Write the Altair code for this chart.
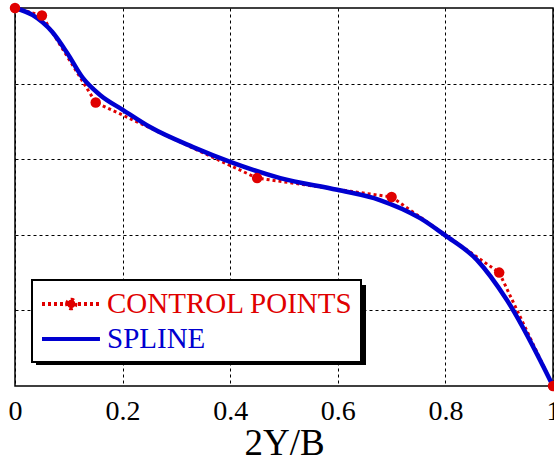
import altair as alt
import pandas as pd

# control points (2Y/B, value)
ctrl_x = [0.0, 0.05, 0.15, 0.45, 0.70, 0.90, 1.0]
ctrl_y = [1.0, 0.98, 0.75, 0.55, 0.50, 0.30, 0.0]

# spline curve
spl_x = [0.0, 0.033, 0.069, 0.097, 0.126, 0.158, 0.201, 0.251, 0.331, 0.400,
         0.493, 0.599, 0.678, 0.753, 0.799, 0.859, 0.914, 1.0]
spl_y = [1.0, 0.981, 0.937, 0.881, 0.815, 0.770, 0.730, 0.685, 0.632, 0.593,
         0.550, 0.519, 0.492, 0.444, 0.399, 0.333, 0.228, 0.0]

series = ["CONTROL POINTS", "SPLINE"]
x_ticks = [0, 0.2, 0.4, 0.6, 0.8, 1.0]
y_ticks = [0.2, 0.4, 0.6, 0.8]
RED = "#e00000"
BLUE = "#0000d0"
FONT = "Liberation Serif"

ctrl = pd.DataFrame({"x": ctrl_x, "y": ctrl_y})
spl = pd.DataFrame({"x": spl_x, "y": spl_y})
leg = pd.DataFrame({"series": series, "x": [0.5, 0.5], "y": [0.5, 0.5]})

xs = alt.Scale(domain=[0, 1], nice=False, zero=False)
ys = alt.Scale(domain=[0, 1], nice=False, zero=False)

xax = alt.Axis(values=x_ticks, title="2Y/B", format="~g", labelFlush=False,
               labelPadding=11, titlePadding=0, labelOverlap=False)
yax = alt.Axis(values=y_ticks, title=None, labels=False)

col_scale = alt.Scale(domain=series, range=[RED, BLUE])
label_color = {"expr": "datum.label == 'SPLINE' ? '%s' : '%s'" % (BLUE, RED)}

SYM = 784  # legend symbol size (r = 14 px)
shape_paths = [
    "M-1,0H3.14M0.79,0A0.3,0.3 0 1,1 1.39,0A0.3,0.3 0 1,1 0.79,0Z",
    "M-1,0H3.14",
]


def mk_legend():
    return alt.Legend(title=None, orient="none", legendX=17, legendY=272,
                      labelColor=label_color)


# drop shadow of the legend box (decoration)
shadow = alt.Chart(pd.DataFrame({"k": [0]})).mark_rect(color="black").encode(
    x=alt.value(21), x2=alt.value(351), y=alt.value(277), y2=alt.value(357)
)

legend_layer = alt.Chart(leg).mark_point(
    size=SYM, strokeWidth=4, opacity=1
).encode(
    x=alt.X("x:Q", scale=xs, axis=xax),
    y=alt.Y("y:Q", scale=ys, axis=yax),
    fill=alt.Fill("series:N", scale=col_scale, legend=mk_legend()),
    stroke=alt.Stroke("series:N", scale=col_scale, legend=mk_legend()),
    shape=alt.Shape("series:N", scale=alt.Scale(domain=series, range=shape_paths),
                    legend=mk_legend()),
    strokeDash=alt.StrokeDash("series:N", scale=alt.Scale(domain=series,
                              range=[[3, 3], [1, 0]]), legend=mk_legend()),
).transform_filter("datum.x > 5")

red_line = alt.Chart(ctrl).mark_line(color=RED, strokeWidth=3, strokeDash=[3, 3]).encode(
    x=alt.X("x:Q", scale=xs),
    y=alt.Y("y:Q", scale=ys),
)
blue_line = alt.Chart(spl).mark_line(color=BLUE, strokeWidth=4.5, interpolate="monotone").encode(
    x=alt.X("x:Q", scale=xs),
    y=alt.Y("y:Q", scale=ys),
)
red_pts = alt.Chart(ctrl).mark_circle(color=RED, size=110, opacity=1).encode(
    x=alt.X("x:Q", scale=xs),
    y=alt.Y("y:Q", scale=ys),
)

chart = alt.layer(legend_layer, red_line, blue_line, red_pts, shadow).properties(
    width=538, height=378, background="white",
    autosize=alt.AutoSizeParams(type="none"),
    padding={"left": 15, "top": 8, "right": 1, "bottom": 77},
).configure_view(
    stroke="black", strokeWidth=1.5
).configure_axis(
    labelFont=FONT, titleFont=FONT, labelFontSize=28, titleFontSize=37,
    labelColor="black", titleColor="black", titleFontWeight="normal",
    ticks=False, domain=False, grid=True, gridColor="black", gridDash=[3, 3],
    gridWidth=1, gridOpacity=1,
).configure_legend(
    labelFont=FONT, labelFontSize=29,
    strokeColor="black", strokeWidth=2, fillColor="white", padding=8,
    rowPadding=4, labelOffset=35, symbolSize=SYM, symbolStrokeWidth=4,
    labelLimit=400,
)

chart.save("out.html", embed_options={"renderer": "svg", "actions": False})
